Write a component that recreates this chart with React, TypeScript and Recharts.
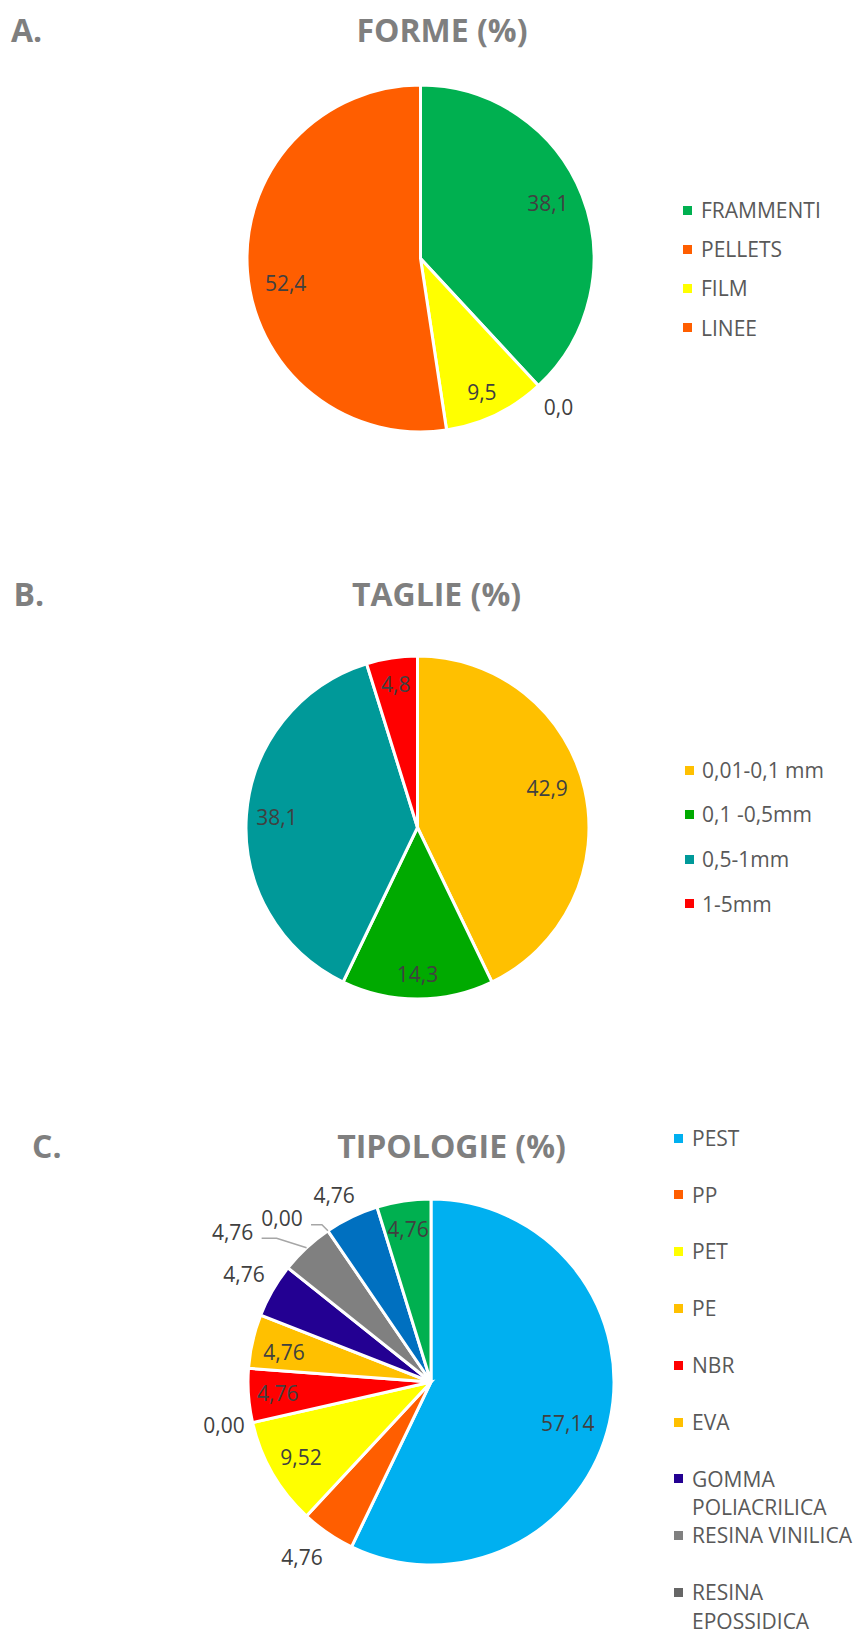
import { Cell, Legend, Pie, PieChart } from "recharts";

// A. forme
const formeNames = ["FRAMMENTI", "PELLETS", "FILM", "LINEE"];
const formeValues = [38.1, 0.0, 9.5, 52.4];
const formeColors = ["#00B050", "#FF5E00", "#FFFF00", "#FF5E00"];

// B. taglie
const taglieNames = ["0,01-0,1 mm", "0,1 -0,5mm", "0,5-1mm", "1-5mm"];
const taglieValues = [42.9, 14.3, 38.1, 4.8];
const taglieColors = ["#FFC000", "#00AA00", "#009999", "#FF0000"];

// C. tipologie (le ultime due voci di legenda sono fuori dal foglio)
const tipoNames = [
  "PEST",
  "PP",
  "PET",
  "PE",
  "NBR",
  "EVA",
  "GOMMA POLIACRILICA",
  "RESINA VINILICA",
  "RESINA EPOSSIDICA",
  "PA",
  "PS",
];
const tipoValues = [57.14, 4.76, 9.52, 0.0, 4.76, 4.76, 4.76, 4.76, 0.0, 4.76, 4.76];
const tipoColors = [
  "#00B0F0",
  "#FF5E00",
  "#FFFF00",
  "#FFC000",
  "#FF0000",
  "#FFC000",
  "#230092",
  "#808080",
  "#666666",
  "#0070C0",
  "#00B050",
];

interface Place {
  r: number; // fattore sul raggio
  da?: number; // spostamento angolare (gradi, orario)
  leader?: boolean;
}

// posizione etichette (stile, separato dai dati)
const formePlaces: Place[] = [{ r: 0.8, da: -2 }, { r: 1.17 }, { r: 0.845, da: 1 }, { r: 0.79, da: -6 }];
const tagliePlaces: Place[] = [{ r: 0.79, da: -4 }, { r: 0.854 }, { r: 0.822 }, { r: 0.845 }];
const tipoPlaces: Place[] = [
  { r: 0.78, da: 3.8 },
  { r: 1.19, da: 2 },
  { r: 0.82 },
  { r: 1.155, da: 1.2 },
  { r: 0.84 },
  { r: 0.82, da: -1.3 },
  { r: 1.18 },
  { r: 1.36, da: -10, leader: true },
  { r: 1.21, da: -8, leader: true },
  { r: 1.15, da: -1.7 },
  { r: 0.845 },
];

const RAD = Math.PI / 180;
const FONT = "'Open Sans', 'DejaVu Sans', sans-serif";

const makeLabel =
  (decimals: number, places: Place[]) =>
  // eslint-disable-next-line @typescript-eslint/no-explicit-any
  (props: any) => {
    const { cx, cy, midAngle, outerRadius, value, index } = props;
    const p = places[index] ?? { r: 0.8 };
    const ang = (midAngle - (p.da ?? 0)) * RAD;
    const x = cx + outerRadius * p.r * Math.cos(-ang);
    const y = cy + outerRadius * p.r * Math.sin(-ang);
    const text = Number(value).toFixed(decimals).replace(".", ",");
    let leader = null;
    if (p.leader) {
      const ex = cx + outerRadius * Math.cos(-midAngle * RAD);
      const ey = cy + outerRadius * Math.sin(-midAngle * RAD);
      const sx = x + 29;
      const sy = y + 6.5;
      const bx = Math.min(sx + 15, ex - 6);
      leader = (
        <polyline
          points={`${sx},${sy} ${bx},${sy} ${ex},${ey}`}
          fill="none"
          stroke="#A6A6A6"
          strokeWidth={1.5}
        />
      );
    }
    return (
      <g key={`lbl-${index}`}>
        {leader}
        <text
          x={x}
          y={y}
          textAnchor="middle"
          dominantBaseline="central"
          fill="#404040"
          fontSize={21}
          fontFamily={FONT}
        >
          {text}
        </text>
      </g>
    );
  };

interface LegendCfg {
  x: number;
  textOffset: number;
  firstY: number; // centro prima riga (pagina)
  gap: number;
  textWidth: number;
}

interface SectionProps {
  top: number;
  height: number;
  names: string[];
  values: number[];
  colors: string[];
  places: Place[];
  decimals: number;
  cx: number;
  cy: number;
  radius: number;
  legend: LegendCfg;
}

const LINE_H = 28.5;

function PieSection({ top, height, names, values, colors, places, decimals, cx, cy, radius, legend }: SectionProps) {
  const data = names.map((name, i) => ({ name, value: values[i] }));
  const legendTop = legend.firstY - LINE_H / 2 - top;
  return (
    <div style={{ position: "absolute", left: 0, top, width: 856, height }}>
      <PieChart width={856} height={height} margin={{ top: 0, right: 0, bottom: 0, left: 0 }}>
        <Pie
          data={data}
          dataKey="value"
          nameKey="name"
          cx={cx}
          cy={cy - top}
          outerRadius={radius}
          startAngle={90}
          endAngle={-270}
          stroke="#FFFFFF"
          strokeWidth={3}
          label={makeLabel(decimals, places)}
          labelLine={false}
          isAnimationActive={false}
        >
          {data.map((d, i) => (
            <Cell key={d.name} fill={colors[i]} />
          ))}
        </Pie>
        <Legend
          layout="vertical"
          align="right"
          verticalAlign="middle"
          wrapperStyle={{
            left: legend.x,
            top: legendTop,
            width: 856 - legend.x,
            height: names.length * legend.gap,
          }}
          content={() => (
            <div style={{ position: "relative", fontFamily: FONT }}>
              {names.map((n, i) => (
                <div key={n} style={{ position: "absolute", left: 0, top: i * legend.gap }}>
                  <div
                    style={{
                      position: "absolute",
                      left: 0,
                      top: LINE_H / 2 - 4.5,
                      width: 9,
                      height: 9,
                      background: colors[i],
                    }}
                  />
                  <div
                    style={{
                      position: "absolute",
                      left: legend.textOffset,
                      top: 0,
                      width: legend.textWidth,
                      fontSize: 21,
                      lineHeight: `${LINE_H}px`,
                      color: "#595959",
                      whiteSpace: "normal",
                    }}
                  >
                    {n}
                  </div>
                </div>
              ))}
            </div>
          )}
        />
      </PieChart>
    </div>
  );
}

const titleStyle = { fontFamily: FONT, fontWeight: 700, fontSize: 32, fill: "#7F7F7F" };

export default function App() {
  return (
    <div
      style={{
        position: "fixed",
        left: 0,
        top: 0,
        width: 856,
        height: 1632,
        overflow: "hidden",
        background: "#FFFFFF",
      }}
    >
      <PieSection
        top={0}
        height={550}
        names={formeNames}
        values={formeValues}
        colors={formeColors}
        places={formePlaces}
        decimals={1}
        cx={420.5}
        cy={258.5}
        radius={173.5}
        legend={{ x: 683, textOffset: 18, firstY: 210, gap: 39.3, textWidth: 160 }}
      />
      <PieSection
        top={560}
        height={530}
        names={taglieNames}
        values={taglieValues}
        colors={taglieColors}
        places={tagliePlaces}
        decimals={1}
        cx={417.5}
        cy={827.5}
        radius={171.5}
        legend={{ x: 685, textOffset: 17, firstY: 770, gap: 44.6, textWidth: 160 }}
      />
      <PieSection
        top={1100}
        height={532}
        names={tipoNames}
        values={tipoValues}
        colors={tipoColors}
        places={tipoPlaces}
        decimals={2}
        cx={431}
        cy={1382}
        radius={183}
        legend={{ x: 674, textOffset: 18, firstY: 1138, gap: 56.8, textWidth: 175 }}
      />
      <svg
        width={856}
        height={1632}
        style={{ position: "absolute", left: 0, top: 0, pointerEvents: "none" }}
      >
        <text x={11} y={42} {...titleStyle}>A.</text>
        <text x={442} y={42} textAnchor="middle" {...titleStyle}>FORME (%)</text>
        <text x={13.5} y={606} {...titleStyle}>B.</text>
        <text x={436.5} y={606} textAnchor="middle" {...titleStyle}>TAGLIE (%)</text>
        <text x={32} y={1158} {...titleStyle}>C.</text>
        <text x={451.5} y={1158} textAnchor="middle" {...titleStyle}>TIPOLOGIE (%)</text>
      </svg>
    </div>
  );
}
